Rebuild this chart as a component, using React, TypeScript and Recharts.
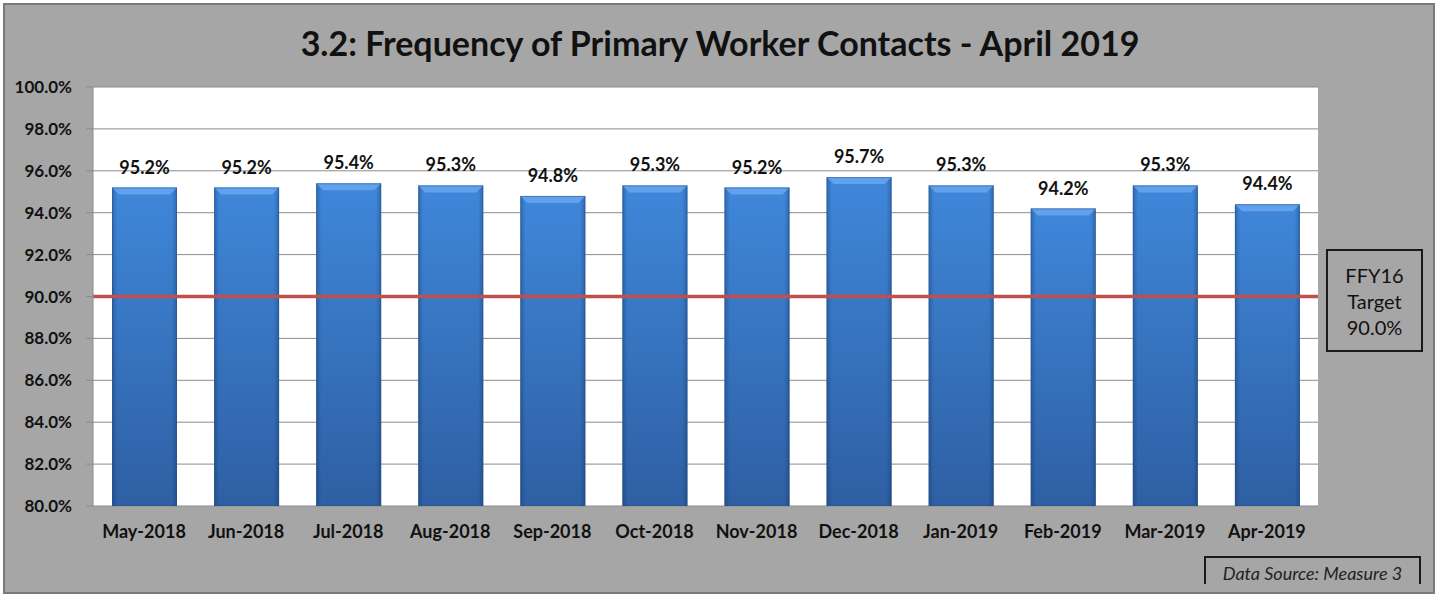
import React from 'react';
import { BarChart, Bar, XAxis, YAxis, CartesianGrid, ReferenceLine, LabelList } from 'recharts';

const months = ['May-2018', 'Jun-2018', 'Jul-2018', 'Aug-2018', 'Sep-2018', 'Oct-2018', 'Nov-2018', 'Dec-2018', 'Jan-2019', 'Feb-2019', 'Mar-2019', 'Apr-2019'];
const rates = [95.2, 95.2, 95.4, 95.3, 94.8, 95.3, 95.2, 95.7, 95.3, 94.2, 95.3, 94.4];
const yTicks = [80, 82, 84, 86, 88, 90, 92, 94, 96, 98, 100];
const boundaryTicks = [0, 1, 2, 3, 4, 5, 6, 7, 8, 9, 10, 11, 12];
const targetValue = 90;
const title = '3.2: Frequency of Primary Worker Contacts - April 2019';
const targetLines = ['FFY16', 'Target', '90.0%'];
const sourceText = 'Data Source: Measure 3';

const data = months.map((m, i) => ({ month: m, rate: rates[i] }));

const FONT = 'Lato, "Open Sans", sans-serif';

const BarShape = (props: any) => {
  const { x, y, width, height } = props;
  if (width == null || height == null) return null;
  const b = 7;
  return (
    <g>
      <rect x={x} y={y} width={width} height={height} fill="url(#barV)" />
      <rect x={x} y={y} width={width} height={height} fill="url(#barH)" />
      <polygon
        points={`${x},${y} ${x + width},${y} ${x + width - b},${y + b} ${x + b},${y + b}`}
        fill="#66a4ec"
        opacity={0.9}
      />
      <rect x={x + 0.5} y={y + 0.5} width={width - 1} height={height - 1} fill="none" stroke="#2a4f82" strokeOpacity={0.45} strokeWidth={1} />
    </g>
  );
};

export default function App() {
  return (
    <div style={{ position: 'absolute', left: 0, top: 0, width: 1440, height: 596, background: '#ffffff' }}>
      <div
        style={{
          position: 'absolute', left: 3, top: 3, width: 1432, height: 591,
          background: '#a6a6a6', border: '2px solid #7a7a7a', boxSizing: 'border-box',
        }}
      />
      <div
        style={{
          position: 'absolute', left: 0, top: 22, width: 1440, textAlign: 'center',
          fontFamily: FONT, fontWeight: 700, fontSize: 34, color: '#111',
        }}
      >
        {title}
      </div>
      <div style={{ position: 'absolute', left: 0, top: 0 }}>
        <BarChart
          width={1440}
          height={596}
          data={data}
          margin={{ top: 87, right: 122, bottom: 0, left: 0 }}
          barSize={65}
        >
          <defs>
            <linearGradient id="barV" x1="0" y1="0" x2="0" y2="1">
              <stop offset="0%" stopColor="#3f87da" />
              <stop offset="100%" stopColor="#2e5fa3" />
            </linearGradient>
            <linearGradient id="barH" x1="0" y1="0" x2="1" y2="0">
              <stop offset="0%" stopColor="#0a2550" stopOpacity={0.3} />
              <stop offset="8%" stopColor="#0a2550" stopOpacity={0} />
              <stop offset="92%" stopColor="#0a2550" stopOpacity={0} />
              <stop offset="100%" stopColor="#0a2550" stopOpacity={0.3} />
            </linearGradient>
          </defs>
          <CartesianGrid vertical={false} stroke="#8c8c8c" fill="#ffffff" />
          <XAxis
            xAxisId="edges"
            type="number"
            domain={[0, 12]}
            ticks={boundaryTicks}
            tick={false}
            tickSize={7}
            height={0}
            axisLine={{ stroke: '#8c8c8c' }}
            tickLine={{ stroke: '#8c8c8c' }}
          />
          <XAxis
            dataKey="month"
            height={90}
            axisLine={false}
            tickLine={false}
            tickSize={0}
            tickMargin={19}
            interval={0}
            tick={{ fontFamily: FONT, fontWeight: 700, fontSize: 18, fill: '#111' }}
          />
          <YAxis
            width={93}
            domain={[80, 100]}
            ticks={yTicks}
            interval={0}
            tickSize={7}
            tickMargin={14}
            axisLine={{ stroke: '#8c8c8c' }}
            tickLine={{ stroke: '#8c8c8c' }}
            tickFormatter={(v: number) => v.toFixed(1) + '%'}
            tick={{ fontFamily: FONT, fontWeight: 700, fontSize: 17, fill: '#111' }}
          />
          <Bar dataKey="rate" shape={<BarShape />} isAnimationActive={false}>
            <LabelList
              dataKey="rate"
              position="top"
              offset={14}
              formatter={(v: any) => Number(v).toFixed(1) + '%'}
              style={{ fontFamily: FONT, fontWeight: 700, fontSize: 18, fill: '#111' }}
            />
          </Bar>
          <ReferenceLine y={targetValue} stroke="#c0504d" strokeWidth={3.5} ifOverflow="extendDomain" />
        </BarChart>
      </div>
      <div
        style={{
          position: 'absolute', left: 1326, top: 249, width: 97, height: 103,
          border: '2px solid #1a1a1a', boxSizing: 'border-box', display: 'flex',
          flexDirection: 'column', alignItems: 'center', justifyContent: 'center',
          fontFamily: FONT, fontSize: 20, lineHeight: '26px', color: '#111',
        }}
      >
        {targetLines.map((t) => (
          <div key={t}>{t}</div>
        ))}
      </div>
      <div
        style={{
          position: 'absolute', left: 1204, top: 556, width: 217, height: 28,
          border: '2px solid #1a1a1a', borderBottom: 'none', boxSizing: 'border-box',
          fontFamily: FONT, fontStyle: 'italic', fontSize: 18, lineHeight: '20px', color: '#222',
          textAlign: 'center', paddingTop: 5, whiteSpace: 'nowrap',
        }}
      >
        {sourceText}
      </div>
    </div>
  );
}
